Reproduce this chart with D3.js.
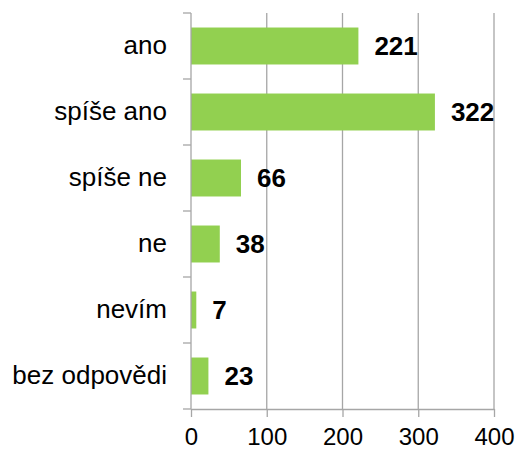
<!DOCTYPE html>
<html><head><meta charset="utf-8">
<script src="https://cdn.jsdelivr.net/npm/d3@7"></script>
<style>body{margin:0;background:#fff}svg{display:block}</style>
</head><body>
<script>
const categories = ["ano","spíše ano","spíše ne","ne","nevím","bez odpovědi"];
const values = [221,322,66,38,7,23];
const xTicks = [0,100,200,300,400];

const W=519,H=452;
const m={left:191,right:25,top:13,bottom:43};
const svg=d3.select("body").append("svg").attr("width",W).attr("height",H);
const x=d3.scaleLinear().domain([0,400]).range([m.left,W-m.right]);
const y=d3.scaleBand().domain(categories).range([m.top,H-m.bottom]).paddingInner(0.44).paddingOuter(0.22);
const font="Liberation Sans, Arial, sans-serif";
const grid="#a6a6a6";

// gridlines
svg.append("g").selectAll("line").data(xTicks.slice(1)).join("line")
  .attr("x1",d=>x(d)).attr("x2",d=>x(d)).attr("y1",m.top).attr("y2",H-m.bottom)
  .attr("stroke",grid).attr("stroke-width",1.3);

// bars
svg.append("g").selectAll("rect").data(values).join("rect")
  .attr("x",x(0)).attr("y",(d,i)=>y(categories[i]))
  .attr("width",d=>x(d)-x(0)).attr("height",y.bandwidth())
  .attr("fill","#92d050");

// value labels
svg.append("g").selectAll("text").data(values).join("text")
  .attr("x",d=>x(d)+16).attr("y",(d,i)=>y(categories[i])+y.bandwidth()/2)
  .attr("dy","0.36em").attr("font-family",font).attr("font-weight","bold")
  .attr("font-size",26).attr("fill","#000").text(d=>d);

// x axis
const xa=svg.append("g").attr("transform",`translate(0,${H-m.bottom})`)
  .call(d3.axisBottom(x).tickValues(xTicks).tickSize(8).tickSizeOuter(0));
xa.select(".domain").attr("stroke",grid).attr("stroke-width",1.3);
xa.selectAll(".tick line").attr("stroke",grid).attr("stroke-width",1.3);
xa.selectAll("text").attr("font-family",font).attr("font-size",24).attr("fill","#000").attr("dy","1.05em");

// y axis
const ya=svg.append("g").attr("transform",`translate(${m.left},0)`)
  .call(d3.axisLeft(y).tickSize(0).tickPadding(24));
ya.select(".domain").remove();
ya.selectAll("text").attr("font-family",font).attr("font-size",26).attr("fill","#000");
svg.append("line").attr("x1",m.left).attr("x2",m.left).attr("y1",m.top).attr("y2",H-m.bottom)
  .attr("stroke",grid).attr("stroke-width",1.3);
// boundary ticks
const step=y.step();
const bounds=d3.range(categories.length+1).map(i=>i);
svg.append("g").selectAll("line").data(bounds).join("line")
  .attr("x1",m.left-8).attr("x2",m.left)
  .attr("y1",i=> i===0?m.top: i===categories.length?H-m.bottom : y(categories[i])-step*0.44/2)
  .attr("y2",i=> i===0?m.top: i===categories.length?H-m.bottom : y(categories[i])-step*0.44/2)
  .attr("stroke",grid).attr("stroke-width",1.3);
</script>
</body></html>
